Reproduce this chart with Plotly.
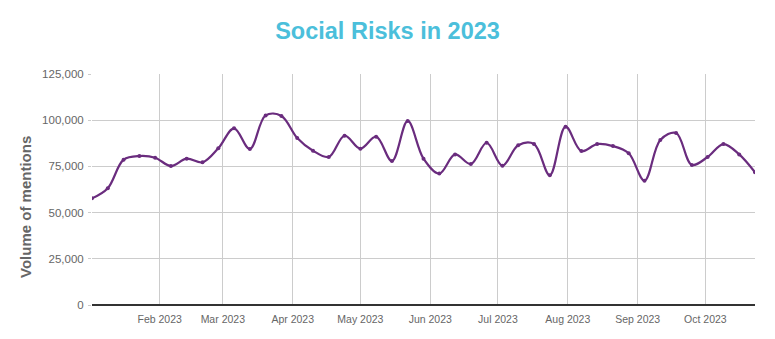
import plotly.graph_objects as go
import pandas as pd

start_date = "2023-01-02"
n_weeks = 43
values = [57700, 63200, 78600, 80600, 79700, 75200, 79200, 77200, 84800, 95600,
          84400, 102600, 102300, 90400, 83500, 80100, 91600, 84600, 91100, 77900,
          99600, 79200, 71100, 81500, 76300, 87800, 75400, 86400, 87100, 70200,
          96500, 83300, 87100, 86000, 82100, 67300, 89300, 93100, 75800, 80100,
          87100, 81500, 71800]
dates = pd.date_range(start_date, periods=n_weeks, freq="7D")

title_text = "Social Risks in 2023"
y_title = "Volume of mentions"

W, H = 775, 339
fig = go.Figure()
fig.add_trace(go.Scatter(
    x=dates, y=values, mode="lines+markers",
    line=dict(color="#6A2C7E", width=2.2, shape="spline", smoothing=1),
    marker=dict(color="#6A2C7E", size=4),
    showlegend=False,
))

fig.update_layout(
    width=W, height=H,
    margin=dict(l=92, r=20, t=74, b=34),
    paper_bgcolor="white", plot_bgcolor="white",
    font=dict(family="Liberation Sans, Arial, sans-serif", size=11, color="#666666"),
    title=dict(text=title_text, x=0.5, xanchor="center", y=1 - 31 / H, yanchor="middle",
               font=dict(family="Liberation Sans, Arial, sans-serif", size=23.5,
                         color="#4BBFDB", weight="bold")),
    xaxis=dict(
        range=[dates[0], dates[-1]],
        tickformat="%b %Y", dtick="M1", tick0="2023-01-01",
        showgrid=True, gridcolor="#CCCCCC", gridwidth=1,
        showline=False, zeroline=False, ticks="",
        ticklabelstandoff=6,
        tickfont=dict(size=10.5, color="#666666"),
    ),
    yaxis=dict(
        range=[0, 125000], dtick=25000, tickformat=",",
        showgrid=True, gridcolor="#CCCCCC", gridwidth=1,
        zeroline=True, zerolinecolor="#333333", zerolinewidth=1.5,
        showline=False, ticks="outside", ticklen=3, tickcolor="#CCCCCC",
        ticklabelstandoff=2,
        tickfont=dict(size=11.5, color="#666666"),
    ),
    annotations=[dict(
        text=y_title, textangle=-90, xref="paper", yref="paper",
        x=-(92 - 26) / (W - 92 - 20), y=(305 - 207) / (305 - 74),
        xanchor="center", yanchor="middle", showarrow=False,
        font=dict(family="Liberation Sans, Arial, sans-serif", size=15,
                  color="#666666", weight="bold"),
    )],
)

fig.write_html("out.html")
